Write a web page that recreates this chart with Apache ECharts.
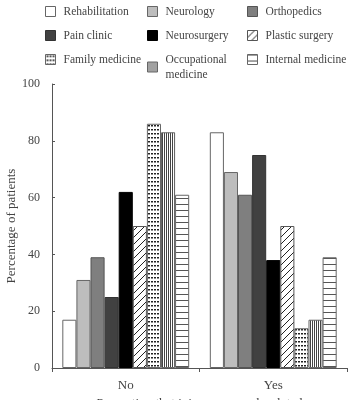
<!DOCTYPE html>
<html>
<head>
<meta charset="utf-8">
<script src="https://cdn.jsdelivr.net/npm/echarts@6/dist/echarts.min.js"></script>
<style>
  html, body { margin: 0; padding: 0; background: #fff; }
  #main { width: 348px; height: 400px; }
</style>
</head>
<body>
<div id="main"></div>
<script>
// data
const categories = ['No', 'Yes'];
const departments = ['Rehabilitation', 'Neurology', 'Orthopedics', 'Pain clinic', 'Neurosurgery',
  'Plastic surgery', 'Family medicine', 'Occupational\nmedicine', 'Internal medicine'];
const noValues = [17, 31, 39, 25, 62, 50, 86, 83, 61];
const yesValues = [83, 69, 61, 75, 38, 50, 14, 17, 39];
const yTicks = [0, 20, 40, 60, 80, 100];

const serif = '"Liberation Serif", "DejaVu Serif", serif';

// little canvas patterns for the hatched bars
function pattern(w, h, draw) {
  const c = document.createElement('canvas');
  c.width = w; c.height = h;
  const ctx = c.getContext('2d');
  ctx.fillStyle = '#fff';
  ctx.fillRect(0, 0, w, h);
  draw(ctx);
  return { image: c, repeat: 'repeat' };
}
const diag = pattern(7, 7, ctx => {
  ctx.strokeStyle = '#222'; ctx.lineWidth = 1;
  ctx.beginPath();
  ctx.moveTo(0, 7); ctx.lineTo(7, 0);
  ctx.moveTo(-1, 1); ctx.lineTo(1, -1);
  ctx.moveTo(6, 8); ctx.lineTo(8, 6);
  ctx.stroke();
});
const dots = pattern(3.5, 4, ctx => {
  ctx.fillStyle = '#222';
  ctx.fillRect(1, 1, 2, 1.5);
});
const vlines = pattern(2.5, 4, ctx => {
  ctx.fillStyle = '#444';
  ctx.fillRect(0, 0, 1, 4);
});
const hlines = pattern(4, 6.6, ctx => {
  ctx.fillStyle = '#555';
  ctx.fillRect(0, 0, 4, 1);
});

const fills = ['#ffffff', '#bdbdbd', '#7f7f7f', '#414141', '#000000', diag, dots, vlines, hlines];
const borders = ['#666', '#666', '#555', '#333', '#000', '#555', '#666', '#666', '#666'];

// legend grid: 3 columns x 3 rows
const legendCols = [45, 147, 247];
const legendRows = [4, 28, 52];

const chart = echarts.init(document.getElementById('main'));

const series = departments.map((name, i) => ({
  name: name,
  type: 'bar',
  barGap: '0%',
  barCategoryGap: '14%',
  data: [noValues[i], yesValues[i]],
  itemStyle: { color: fills[i], borderColor: borders[i], borderWidth: 1 },
  emphasis: { disabled: true }
}));

const legends = departments.map((name, i) => ({
  data: [name],
  left: legendCols[i % 3],
  top: legendRows[Math.floor(i / 3)],
  padding: 0,
  itemWidth: 10,
  itemHeight: 10,
  icon: 'rect',
  align: 'left',
  selectedMode: false,
  itemStyle: { borderWidth: 1 },
  textStyle: {
    fontFamily: serif, fontSize: 11.5, color: '#444',
    lineHeight: 15, padding: [0, 0, 0, 3],
    verticalAlign: 'top'
  }
}));

const option = {
  animation: false,
  legend: legends,
  grid: { left: 52, right: 1, top: 84, bottom: 32, outerBoundsMode: 'none', containLabel: false },
  xAxis: {
    type: 'category',
    data: categories,
    name: 'Perception that injury was work-related',
    nameLocation: 'middle',
    nameGap: 29,
    nameMoveOverlap: false,
    nameTextStyle: { fontFamily: serif, fontSize: 13, color: '#444' },
    axisLine: { lineStyle: { color: '#555', width: 1 } },
    axisTick: { show: true, length: 4, lineStyle: { color: '#555' } },
    axisLabel: { fontFamily: serif, fontSize: 13, color: '#444', margin: 11 }
  },
  yAxis: {
    type: 'value',
    min: yTicks[0],
    max: yTicks[yTicks.length - 1],
    interval: 20,
    name: 'Percentage of patients',
    nameLocation: 'middle',
    nameGap: 34,
    nameMoveOverlap: false,
    nameTextStyle: { fontFamily: serif, fontSize: 13, color: '#444' },
    splitLine: { show: false },
    axisLine: { show: true, lineStyle: { color: '#555', width: 1 } },
    axisTick: { show: true, inside: true, length: 3, lineStyle: { color: '#555' } },
    axisLabel: { fontFamily: serif, fontSize: 12, color: '#444', margin: 12 }
  },
  series: series
};

chart.setOption(option);
</script>
</body>
</html>
